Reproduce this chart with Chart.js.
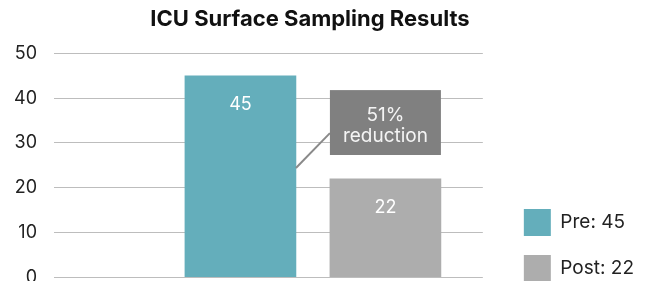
<!DOCTYPE html>
<html>
<head>
<meta charset="utf-8">
<script src="https://cdn.jsdelivr.net/npm/chart.js@4.4.1/dist/chart.umd.min.js"></script>
<style>
  html, body { margin: 0; padding: 0; background: #fff; overflow: hidden; }
  #wrap { position: relative; width: 650px; height: 305px; }
</style>
</head>
<body>
<div id="wrap"><canvas id="chart"></canvas></div>
<script>
const categories = ["Pre", "Post"];
const values = [45, 22];
const yTicks = [0, 10, 20, 30, 40, 50];
const barColors = ["#64aebb", "#adadad"];

const reduction = Math.round((1 - values[1] / values[0]) * 100);
const noteLines = [reduction + "%", "reduction"];

const ctx = document.getElementById("chart");

// value printed inside the top of each bar
const barLabels = {
  id: "barLabels",
  afterDatasetsDraw(chart) {
    const c = chart.ctx;
    c.save();
    c.font = "18px Inter";
    c.fillStyle = "#ffffff";
    c.textAlign = "center";
    c.textBaseline = "alphabetic";
    chart.data.datasets.forEach((ds, i) => {
      const bar = chart.getDatasetMeta(i).data[0];
      c.fillText(values[i], bar.x, bar.y + 34);
    });
    c.restore();
  }
};

// "51% reduction" box over the Post bar with a connector from the Pre bar
const reductionNote = {
  id: "reductionNote",
  afterDatasetsDraw(chart, args, opts) {
    const c = chart.ctx;
    const y = chart.scales.y;
    const pre = chart.getDatasetMeta(0).data[0];
    const post = chart.getDatasetMeta(1).data[0];
    const left = post.x - post.width / 2;
    const top = y.getPixelForValue(opts.boxTop);
    const bottom = y.getPixelForValue(opts.boxBottom);
    c.save();
    c.strokeStyle = "#8a8a8a";
    c.lineWidth = 2;
    c.beginPath();
    c.moveTo(pre.x + pre.width / 2, y.getPixelForValue(opts.lineFrom));
    c.lineTo(left, y.getPixelForValue(opts.lineTo));
    c.stroke();
    c.fillStyle = "#808080";
    c.fillRect(left, top, post.width, bottom - top);
    c.fillStyle = "#f4f4f4";
    c.font = "19px Inter";
    c.textAlign = "center";
    c.textBaseline = "alphabetic";
    c.fillText(noteLines[0], post.x, top + 31);
    c.fillText(noteLines[1], post.x, top + 52);
    c.restore();
  }
};

new Chart(ctx, {
  type: "bar",
  data: {
    datasets: categories.map((name, i) => ({
      label: name + ": " + values[i],
      data: [{ x: i + 1, y: values[i] }],
      backgroundColor: barColors[i],
      borderWidth: 0,
      grouped: false,
      barThickness: 111,
    })),
  },
  options: {
    responsive: true,
    maintainAspectRatio: false,
    animation: false,
    layout: { padding: { left: -24, right: 6, top: 0, bottom: 4 } },
    scales: {
      x: {
        type: "linear",
        min: -0.286,
        max: 2.672,
        offset: false,
        display: false,
      },
      y: {
        min: 0,
        max: 50,
        afterBuildTicks: (scale) => {
          scale.ticks = yTicks.map((v) => ({ value: v }));
        },
        afterFit: (scale) => {
          scale.width = 78;
        },
        border: { display: false },
        grid: { color: "#bdbdbd", lineWidth: 1, drawTicks: false },
        ticks: {
          padding: 17,
          color: "#222",
          font: { family: "Inter", size: 18 },
        },
      },
      // empty axis: keeps a gap between the plot and the legend
      gap: {
        position: "right",
        type: "linear",
        display: true,
        grid: { display: false },
        border: { display: false },
        ticks: { display: false },
        afterFit: (scale) => {
          scale.width = 22;
        },
      },
    },
    plugins: {
      title: {
        display: true,
        text: "ICU Surface Sampling Results",
        color: "#111",
        font: { family: "Inter", size: 22, weight: "bold" },
        padding: { top: 6, bottom: 21 },
      },
      legend: {
        position: "right",
        align: "end",
        maxWidth: 220,
        labels: {
          boxWidth: 27,
          boxHeight: 27,
          padding: 19,
          color: "#222",
          font: { family: "Inter", size: 19 },
        },
      },
      tooltip: { enabled: false },
      reductionNote: { boxTop: 41.8, boxBottom: 27.3, lineFrom: 24.4, lineTo: 32.2 },
    },
  },
  plugins: [barLabels, reductionNote],
});
</script>
</body>
</html>
